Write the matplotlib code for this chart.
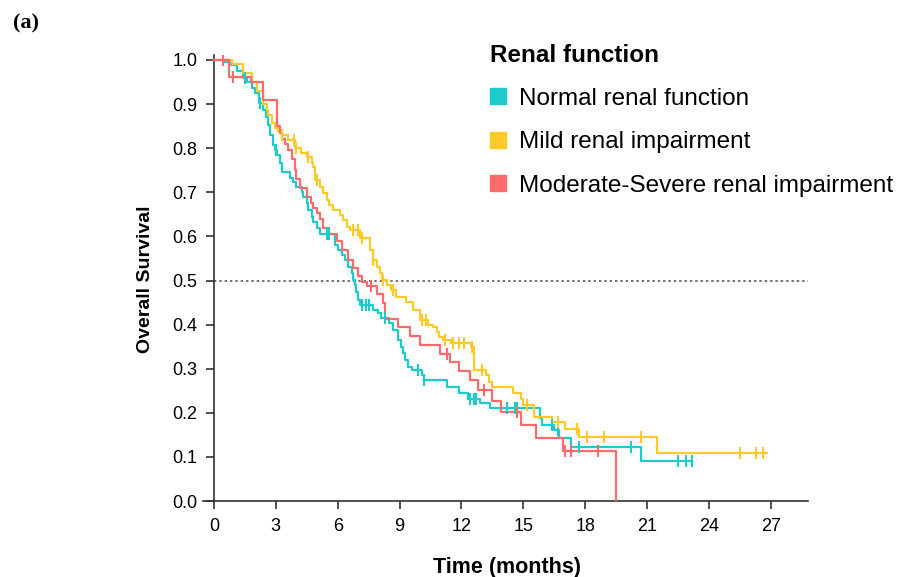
import matplotlib
matplotlib.use("Agg")
import matplotlib.pyplot as plt
from matplotlib.lines import Line2D

plt.rcParams['font.family'] = ['Liberation Sans', 'DejaVu Sans']

# ---- data ----
groups = ["Normal renal function", "Mild renal impairment", "Moderate-Severe renal impairment"]
colors = ["#1DCBCB", "#FFC928", "#FF6B6B"]

normal_t = [0, 0.5, 0.8, 1.1, 1.4, 1.6, 1.84, 2.0, 2.2, 2.38, 2.5, 2.6, 2.7, 2.86, 2.96, 3.05,
            3.2, 3.3, 3.7, 3.83, 4.0, 4.26, 4.3, 4.5, 4.56, 4.75, 4.8, 5.0, 5.14, 5.87, 6.0,
            6.2, 6.35, 6.5, 6.7, 6.75, 6.85, 6.9, 7.0, 7.1, 7.7, 7.95, 8.1, 8.5, 8.7, 8.9,
            9.05, 9.15, 9.26, 9.4, 9.6, 10.1, 10.2, 11.3, 11.9, 12.3, 12.9, 13.4, 15.8,
            15.9, 16.5, 16.75, 17.3, 20.7, 23.2]
normal_s = [1.0, 0.995, 0.989, 0.975, 0.96, 0.95, 0.937, 0.925, 0.902, 0.887, 0.871, 0.853,
            0.83, 0.807, 0.796, 0.785, 0.766, 0.746, 0.732, 0.723, 0.712, 0.70, 0.689, 0.676,
            0.66, 0.644, 0.633, 0.619, 0.605, 0.58, 0.569, 0.558, 0.546, 0.531, 0.517, 0.501,
            0.49, 0.474, 0.456, 0.444, 0.433, 0.426, 0.416, 0.403, 0.388, 0.365, 0.35, 0.335,
            0.32, 0.304, 0.297, 0.285, 0.274, 0.259, 0.245, 0.231, 0.222, 0.211, 0.188,
            0.172, 0.161, 0.143, 0.122, 0.091, 0.091]
normal_cens_t = [1.5, 2.25, 3.0, 5.5, 5.6, 7.2, 7.35, 7.5, 8.3, 9.9, 10.2, 12.4, 12.6, 12.7,
                 14.2, 14.6, 14.7, 16.4, 16.7, 17.3, 17.7, 20.2, 22.5, 22.9, 23.2]

mild_t = [0, 0.9, 1.4, 1.85, 2.1, 2.4, 2.57, 2.62, 2.8, 2.96, 3.1, 3.3, 3.6, 3.95, 4.2, 4.5,
          4.75, 4.8, 4.9, 5.14, 5.28, 5.5, 5.6, 5.77, 6.1, 6.25, 6.45, 6.6, 7.1, 7.55, 7.7,
          7.9, 8.05, 8.14, 8.4, 8.6, 8.85, 9.3, 9.65, 10.0, 10.4, 10.6, 10.8, 10.9, 11.1,
          11.5, 12.45, 12.6, 13.2, 13.35, 13.5, 14.5, 14.87, 15.0, 15.5, 16.4, 17.0, 17.7,
          21.5, 26.8]
mild_s = [1.0, 0.99, 0.97, 0.95, 0.93, 0.90, 0.887, 0.875, 0.857, 0.846, 0.84, 0.83, 0.819,
          0.80, 0.79, 0.78, 0.766, 0.757, 0.728, 0.712, 0.698, 0.683, 0.671, 0.66, 0.649,
          0.637, 0.621, 0.614, 0.596, 0.569, 0.546, 0.531, 0.517, 0.501, 0.49, 0.478, 0.463,
          0.451, 0.433, 0.41, 0.40, 0.395, 0.384, 0.372, 0.366, 0.358, 0.35, 0.297, 0.286,
          0.27, 0.259, 0.244, 0.231, 0.218, 0.191, 0.18, 0.163, 0.146, 0.109, 0.109]
mild_cens_t = [3.3, 3.9, 4.0, 4.56, 5.0, 6.75, 7.0, 7.2, 7.7, 8.2, 8.7, 10.1, 10.3, 11.2,
               11.6, 11.9, 12.1, 12.5, 13.0, 15.2, 16.7, 17.6, 18.1, 18.9, 20.7, 25.5,
               26.3, 26.6]

mod_t = [0, 0.75, 1.8, 2.4, 3.05, 3.2, 3.3, 3.44, 3.6, 3.8, 3.93, 4.0, 4.17, 4.5, 4.7, 4.8,
         5.0, 5.14, 5.3, 5.6, 5.95, 6.2, 6.5, 6.75, 7.0, 7.2, 7.4, 7.9, 8.2, 8.3, 8.9, 9.5,
         10.0, 10.95, 11.45, 11.9, 12.4, 12.8, 13.5, 13.9, 14.9, 15.6, 16.9, 19.5]
mod_s = [1.0, 0.962, 0.95, 0.91, 0.85, 0.835, 0.82, 0.81, 0.796, 0.775, 0.75, 0.73, 0.71,
         0.69, 0.675, 0.665, 0.653, 0.64, 0.62, 0.605, 0.59, 0.57, 0.546, 0.528, 0.51,
         0.497, 0.488, 0.47, 0.45, 0.412, 0.395, 0.374, 0.354, 0.333, 0.316, 0.295, 0.274,
         0.252, 0.227, 0.202, 0.172, 0.143, 0.113, 0.0]
mod_cens_t = [0.44, 0.92, 7.6, 11.3, 13.1, 14.7, 17.0, 17.3, 18.6]

x_ticks = [0, 3, 6, 9, 12, 15, 18, 21, 24, 27]
y_ticks = [0.0, 0.1, 0.2, 0.3, 0.4, 0.5, 0.6, 0.7, 0.8, 0.9, 1.0]


def surv_at(ts, ss, t):
    val = ss[0]
    for ti, si in zip(ts, ss):
        if ti <= t:
            val = si
        else:
            break
    return val


fig = plt.figure(figsize=(9.04, 5.77), dpi=100)
ax = fig.add_axes([203 / 904, 1 - 501 / 577, (808 - 203) / 904, (501 - 55) / 577])

series = [(normal_t, normal_s, normal_cens_t), (mild_t, mild_s, mild_cens_t),
          (mod_t, mod_s, mod_cens_t)]
for (ts, ss, cs), col in zip(series, colors):
    ax.step(ts, ss, where='post', color=col, lw=1.6, zorder=3)
    cy = [surv_at(ts, ss, c) for c in cs]
    ax.plot(cs, cy, ls='none', marker='|', ms=8, mew=1.5, color=col, zorder=4)

ax.axhline(0.5, xmin=(0 + 0.53) / (28.8 + 0.53), color='#444444', ls=(0, (1.5, 2)), lw=1.1, zorder=2)

ax.set_xlim(-0.53, 28.8)
ax.set_ylim(0, 1.0 + 5 / 441)
ax.spines['left'].set_position(('data', 0))
ax.spines['top'].set_visible(False)
ax.spines['right'].set_visible(False)
for sp in ('left', 'bottom'):
    ax.spines[sp].set_color('#333333')
    ax.spines[sp].set_linewidth(1.2)
ax.set_xticks(x_ticks)
ax.set_yticks(y_ticks)
ax.set_yticklabels([f"{v:.1f}" for v in y_ticks])
ax.tick_params(axis='both', direction='out', length=6, width=1.2, color='#333333',
               labelsize=13, pad=6)

fig.text(146 / 904, 1 - 279 / 577, "Overall Survival", rotation=90, ha='center', va='center',
         fontsize=14, fontweight='bold')
fig.text(507 / 904, 1 - 567 / 577, "Time (months)", ha='center', va='center',
         fontsize=15.5, fontweight='bold')
fig.text(13 / 904, 1 - 23 / 577, "(a)", ha='left', va='center', fontsize=16,
         fontweight='bold', family=['Liberation Serif', 'DejaVu Serif'])

handles = [Line2D([], [], ls='none', marker='s', ms=12, color=c) for c in colors]
leg = fig.legend(handles, groups, loc='upper left', bbox_to_anchor=(464 / 904, 1 - 18 / 577),
                 frameon=False, fontsize=17.5, title="Renal function", title_fontsize=17.5,
                 handlelength=0.7, handletextpad=0.5, labelspacing=0.88, borderpad=0.55,
                 alignment='left')
leg.get_title().set_fontweight('bold')

fig.savefig("out.png", dpi=100)
